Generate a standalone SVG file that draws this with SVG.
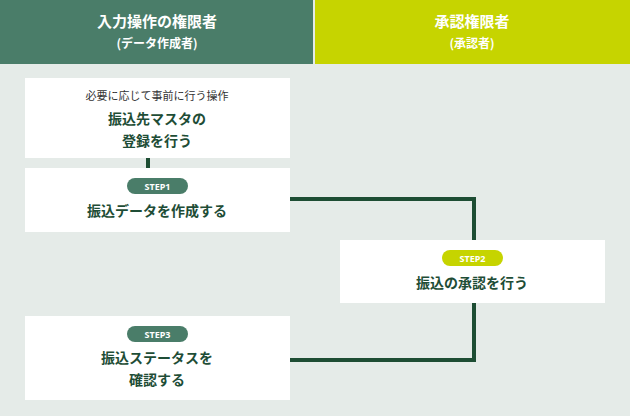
<svg xmlns="http://www.w3.org/2000/svg" width="630" height="416" viewBox="0 0 630 416">
<style>
.h{font-family:"Noto Sans CJK JP","Noto Sans",sans-serif;font-weight:bold;fill:#fff;text-anchor:middle}
.box{fill:#fff}
.t{font-family:"Noto Sans CJK JP",sans-serif;font-weight:bold;font-size:14px;fill:#1e4d36;text-anchor:middle}
.s{font-family:"Noto Sans CJK JP",sans-serif;font-size:11px;fill:#333;text-anchor:middle}
.p{font-family:"Noto Sans","Noto Sans CJK JP",sans-serif;font-weight:bold;font-size:9px;fill:#fff;text-anchor:middle}
.c{fill:none;stroke:#1d4d33;stroke-width:4}
</style>
<rect x="0" y="0" width="630" height="416" fill="#e5ebe8"/>
<g id="header-left"><rect x="0" y="0" width="313" height="64" fill="#4a7d69"/>
<text class="h" x="157" y="27" font-size="15">入力操作の権限者</text>
<text class="h" x="157" y="48" font-size="12">(データ作成者)</text></g>
<g id="header-right"><rect x="315" y="0" width="315" height="64" fill="#c6d400"/>
<text class="h" x="472" y="27" font-size="15">承認権限者</text>
<text class="h" x="472" y="48" font-size="12">(承認者)</text></g>
<g id="connectors">
<line class="c" x1="148" y1="158" x2="148" y2="168"/>
<polyline class="c" points="290,199 474,199 474,240"/>
<polyline class="c" points="474,303 474,360 290,360"/>
</g>
<g id="node1"><rect class="box" x="25" y="78" width="265" height="80"/>
<text class="s" x="157" y="100">必要に応じて事前に行う操作</text>
<text class="t" x="157" y="124">振込先マスタの</text>
<text class="t" x="157" y="146">登録を行う</text></g>
<g id="node2"><rect class="box" x="25" y="168" width="265" height="64"/>
<rect x="127" y="178" width="61" height="16" rx="8" fill="#4a7d69"/>
<text class="p" x="157.5" y="189.5">STEP1</text>
<text class="t" x="157" y="216">振込データを作成する</text></g>
<g id="node3"><rect class="box" x="340" y="240" width="265" height="63"/>
<rect x="442" y="250" width="61" height="16" rx="8" fill="#c6d400"/>
<text class="p" x="472.5" y="261.5">STEP2</text>
<text class="t" x="472" y="288">振込の承認を行う</text></g>
<g id="node4"><rect class="box" x="25" y="316" width="265" height="84"/>
<rect x="127" y="326" width="61" height="16" rx="8" fill="#4a7d69"/>
<text class="p" x="157.5" y="337.5">STEP3</text>
<text class="t" x="157" y="363">振込ステータスを</text>
<text class="t" x="157" y="385">確認する</text></g>
</svg>
